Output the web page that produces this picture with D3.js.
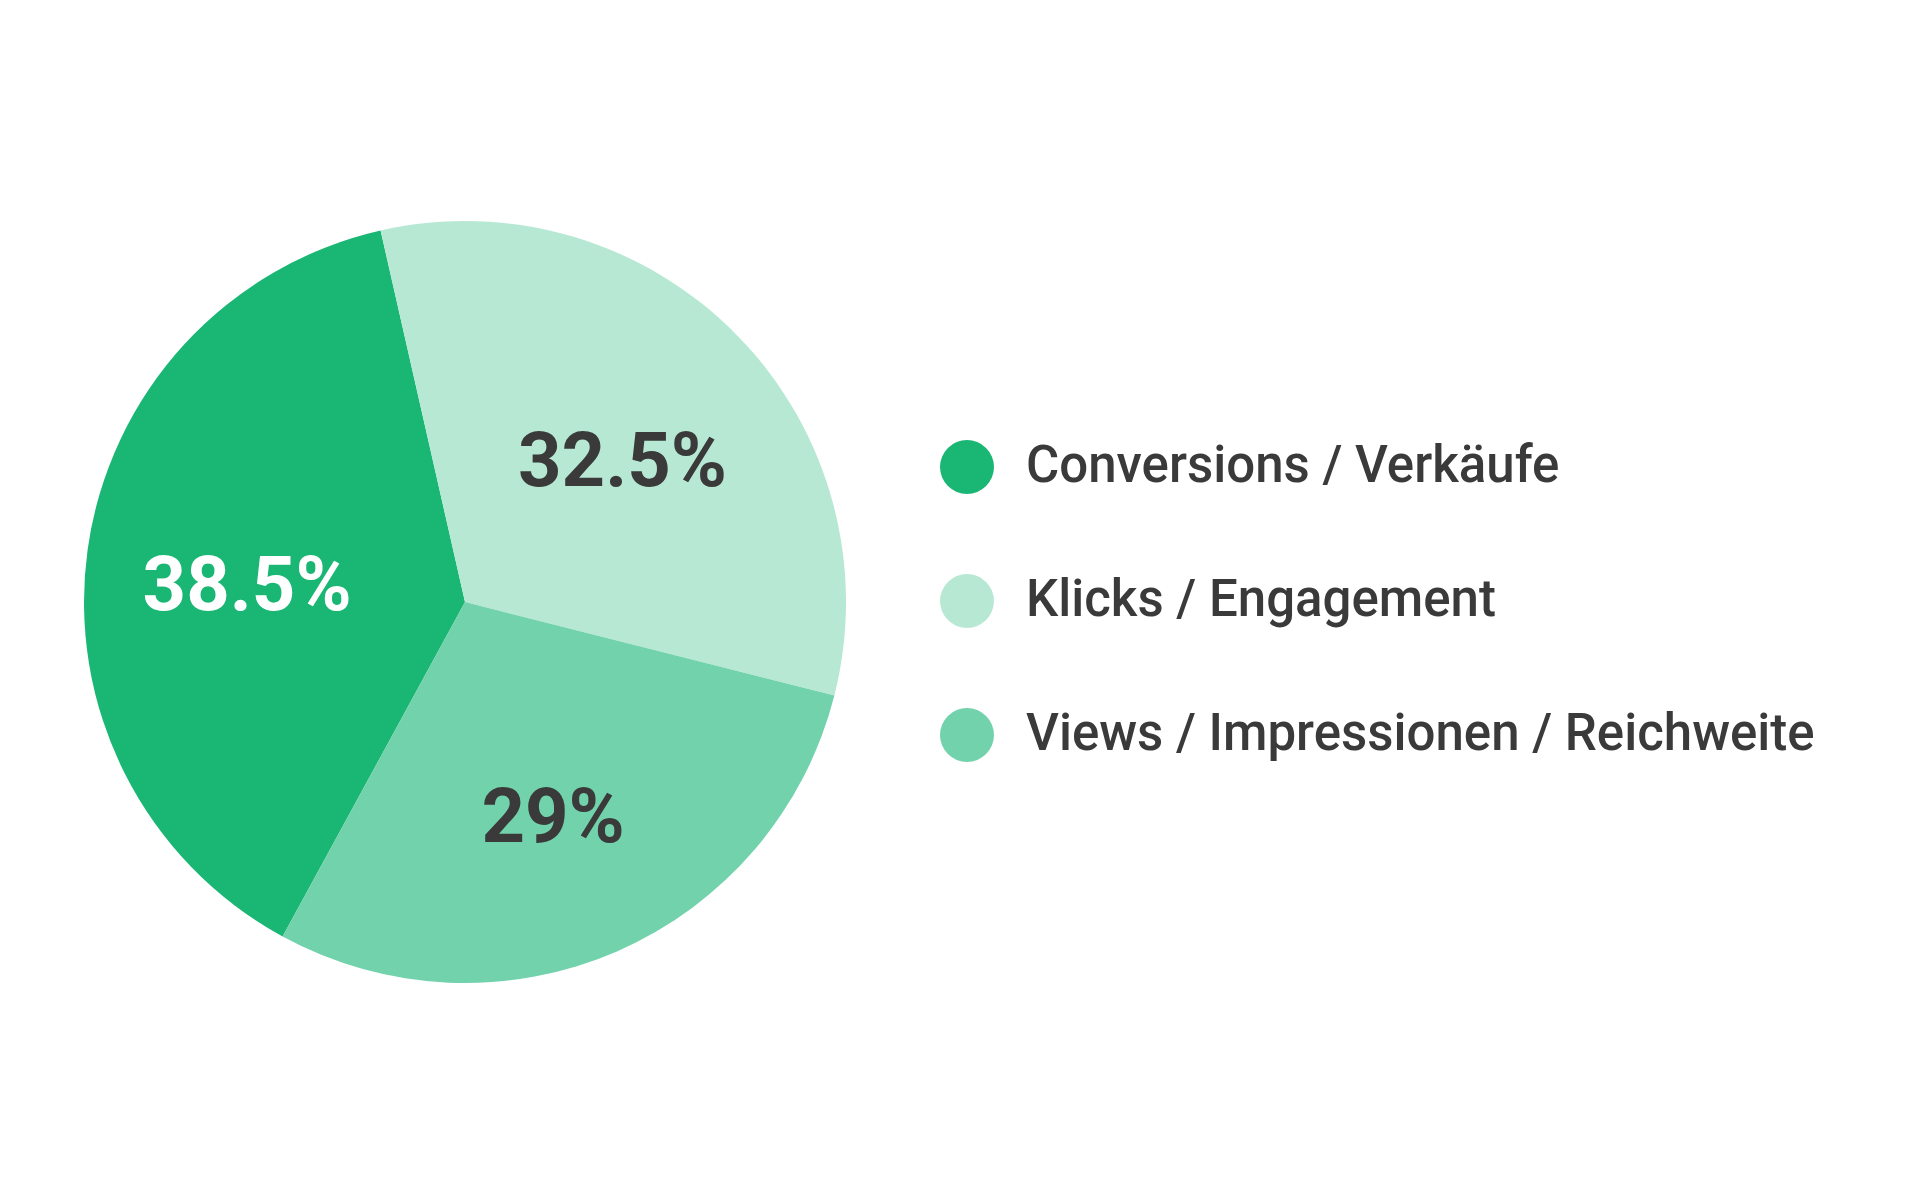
<!DOCTYPE html>
<html>
<head>
<meta charset="utf-8">
<script src="https://cdn.jsdelivr.net/npm/d3@7"></script>
<style>
  html, body { margin: 0; padding: 0; background: #ffffff; }
  svg { display: block; }
</style>
</head>
<body>
<script>
// ---- data ----
const categories = ["Conversions / Verkäufe", "Klicks / Engagement", "Views / Impressionen / Reichweite"];
const values = [38.5, 32.5, 29];
const valueLabels = ["38.5%", "32.5%", "29%"];
const colors = ["#19b674", "#b7e8d4", "#72d2ac"];
const labelColors = ["#ffffff", "#3a3a3a", "#3a3a3a"];

const W = 1920, H = 1200;
const svg = d3.select("body").append("svg").attr("width", W).attr("height", H);

const cx = 465, cy = 602, R = 381;
const startDeg = -151.4;

const pie = d3.pie().sort(null).value(d => d)
  .startAngle(startDeg * Math.PI / 180)
  .endAngle(startDeg * Math.PI / 180 + 2 * Math.PI);
const arcs = pie(values);

const arc = d3.arc().innerRadius(0).outerRadius(R);
const labelArc = d3.arc().innerRadius(220).outerRadius(220);

const g = svg.append("g").attr("transform", `translate(${cx},${cy})`);
g.selectAll("path.slice").data(arcs).join("path")
  .attr("class", "slice")
  .attr("d", arc)
  .attr("fill", (d, i) => colors[i]);

g.selectAll("text.val").data(arcs).join("text")
  .attr("class", "val")
  .attr("transform", d => `translate(${labelArc.centroid(d)})`)
  .attr("text-anchor", "middle")
  .attr("dy", "0.5em")
  .attr("font-family", "Roboto, 'Noto Sans', sans-serif")
  .attr("font-weight", 700)
  .attr("font-size", 76)
  .attr("fill", (d, i) => labelColors[i])
  .text((d, i) => valueLabels[i]);

// ---- legend ----
const legendY = d3.scalePoint().domain(categories).range([467, 735]);
const lg = svg.append("g");
const rows = lg.selectAll("g.row").data(categories).join("g")
  .attr("class", "row")
  .attr("transform", d => `translate(967,${legendY(d)})`);
rows.append("circle").attr("r", 27).attr("fill", (d, i) => colors[i]);
rows.append("text")
  .attr("x", 59)
  .attr("y", 0)
  .attr("dy", "0.29em")
  .attr("font-family", "Roboto, 'Noto Sans', sans-serif")
  .attr("font-weight", 500)
  .attr("font-size", 51)
  .attr("fill", "#3a3a3a")
  .text(d => d);
</script>
</body>
</html>
